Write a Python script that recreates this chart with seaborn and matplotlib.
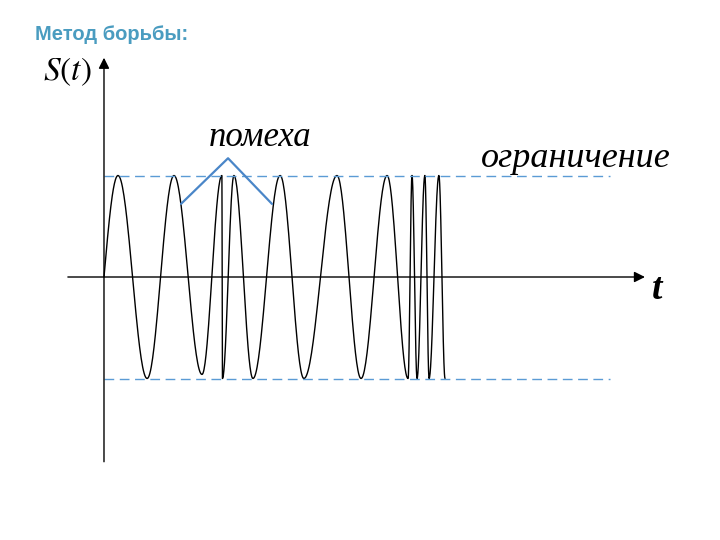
import numpy as np
import pandas as pd
import matplotlib
matplotlib.use("Agg")
import matplotlib.pyplot as plt
import seaborn as sns

# signal turning points (t in half-periods, S normalised to the limit level)
ext_t = [0.0, 0.5, 1.54, 2.5, 3.5, 4.21, 4.23, 4.64, 5.32, 6.29, 7.14, 8.32, 9.18, 10.11,
         10.86, 11.0, 11.18, 11.46, 11.61, 11.96, 12.18]
ext_s = [0.0, 1.0, -1.0, 1.0, -0.96, 1.0, -1.0, 1.0, -1.0, 1.0, -1.0, 1.0, -1.0, 1.0,
         -1.0, 1.0, -1.0, 1.0, -1.0, 1.0, -1.0]

limit_level = 1.0
limit_end = 18.07

# callout lines pointing at the interference spikes
callout_t = [2.75, 4.43, 6.0]
callout_s = [0.72, 1.17, 0.72]

title = "Метод борьбы:"
noise_label = "помеха"
limit_label = "ограничение"

# build the smooth trace between turning points
tt, ss = [], []
for i in range(len(ext_t) - 1):
    t0, t1 = ext_t[i], ext_t[i + 1]
    s0, s1 = ext_s[i], ext_s[i + 1]
    u = np.linspace(0, 1, 40)
    if i == 0:
        shape = np.sin(np.pi / 2 * u)
    else:
        shape = (1 - np.cos(np.pi * u)) / 2
    tt.extend(t0 + (t1 - t0) * u)
    ss.extend(s0 + (s1 - s0) * shape)
df = pd.DataFrame({"t": tt, "S": ss})

sns.set_style("white")
fig = plt.figure(figsize=(7.2, 5.4), dpi=100)
ax = fig.add_axes([0, 0, 1, 1])
ax.set_xlim(-3.714, 22.0)
ax.set_ylim(-2.591, 2.729)
ax.axis("off")

sns.lineplot(data=df, x="t", y="S", sort=False, estimator=None, color="black", lw=1.0, ax=ax)

dash_col = "#5b9bd5"
for lv in (limit_level, -limit_level):
    ax.plot([0, limit_end], [lv, lv], ls=(0, (7, 4)), color=dash_col, lw=1.0)

ax.plot(callout_t, callout_s, color="#4a86c8", lw=1.6)

# axes with arrows
ax.annotate("", xy=(19.32, 0), xytext=(-1.29, 0),
            arrowprops=dict(arrowstyle="-|>", color="black", lw=1.0, mutation_scale=16, shrinkA=0, shrinkB=0))
ax.annotate("", xy=(0, 2.16), xytext=(0, -1.82),
            arrowprops=dict(arrowstyle="-|>", color="black", lw=1.0, mutation_scale=16, shrinkA=0, shrinkB=0))

plt.rcParams["mathtext.fontset"] = "stix"
ax.text(-1.3, 2.02, "$S(t)$", fontsize=24, color="black", ha="center", va="center")
ax.text(19.75, -0.12, "t", fontsize=27, family="Liberation Serif", style="italic",
        weight="bold", color="black", ha="center", va="center")
ax.text(5.57, 1.37, noise_label, fontsize=25, family="Liberation Serif", style="italic",
        color="black", ha="center", va="center")
ax.text(16.84, 1.17, limit_label, fontsize=26, family="Liberation Serif", style="italic",
        color="black", ha="center", va="center")

fig.text(35 / 720, 1 - 34 / 540, title, fontsize=14.5, family="Liberation Sans", weight="bold",
         color="#4a9cc0", ha="left", va="center")

fig.savefig("out.png", dpi=100)
